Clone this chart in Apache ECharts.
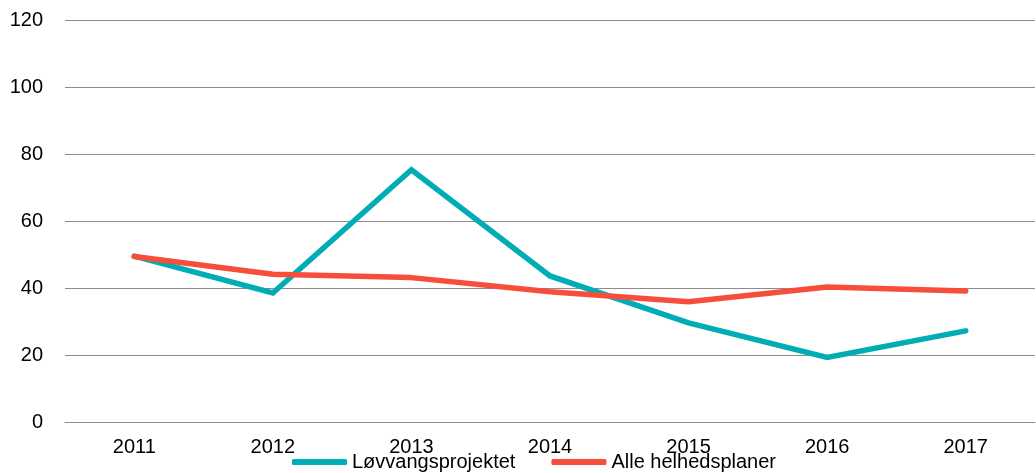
<!DOCTYPE html>
<html lang="no">
<head>
    <meta charset="UTF-8">
    <script src="https://cdn.jsdelivr.net/npm/echarts@6/dist/echarts.min.js"></script>
    <title>Løvvangsprojektet</title>
    <style>
        html, body { margin: 0; padding: 0; background: #fff; }
        #chart { width: 1036px; height: 473px; }
    </style>
</head>
<body>
    <div id="chart"></div>
<script>
    var years = ['2011', '2012', '2013', '2014', '2015', '2016', '2017'];
    var lovvang = [49.5, 38.5, 75.3, 43.6, 29.6, 19.3, 27.2];
    var alle = [49.4, 44.1, 43.1, 38.9, 35.9, 40.3, 39.1];

    var myChart = echarts.init(document.getElementById('chart'));
    myChart.setOption({
        animation: false,
        textStyle: { fontFamily: 'Liberation Sans, Arial, sans-serif' },
        grid: { left: 65, right: 1, top: 20, bottom: 51 },
        legend: {
            left: 292,
            top: 452,
            padding: 0,
            itemWidth: 55,
            itemHeight: 6,
            itemGap: 36,
            icon: 'roundRect',
            textStyle: { fontSize: 20, color: '#000' },
            data: ['Løvvangsprojektet', 'Alle helhedsplaner']
        },
        xAxis: {
            type: 'category',
            data: years,
            axisLine: { lineStyle: { color: '#8c8c8c', width: 1 } },
            axisTick: { show: false },
            axisLabel: { fontSize: 20, color: '#000', margin: 15 }
        },
        yAxis: {
            type: 'value',
            min: 0,
            max: 120,
            interval: 20,
            axisLine: { show: false },
            axisTick: { show: false },
            axisLabel: { fontSize: 20, color: '#000', margin: 22 },
            splitLine: { lineStyle: { color: '#8c8c8c', width: 1 } }
        },
        series: [{
            name: 'Løvvangsprojektet',
            type: 'line',
            data: lovvang,
            symbol: 'none',
            color: '#00adb5',
            lineStyle: { width: 5.5, cap: 'round', join: 'miter' }
        }, {
            name: 'Alle helhedsplaner',
            type: 'line',
            data: alle,
            symbol: 'none',
            color: '#f74d3b',
            lineStyle: { width: 5.5, cap: 'round', join: 'round' }
        }]
    });
</script>
</body>
</html>
